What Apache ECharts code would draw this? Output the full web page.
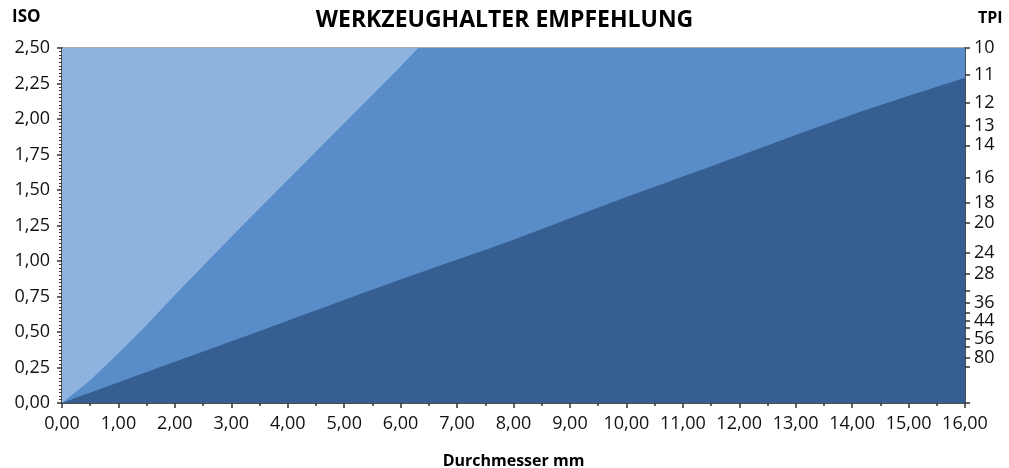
<!DOCTYPE html>
<html>
<head>
<meta charset="utf-8">
<script src="https://cdn.jsdelivr.net/npm/echarts@6/dist/echarts.min.js"></script>
<style>
  html, body { margin: 0; padding: 0; background: #fff; }
  #chart { width: 1009px; height: 468px; }
</style>
</head>
<body>
<div id="chart"></div>
<script>
// Zonen (x = Durchmesser mm, y = Steigung ISO)
const lightX = [0, 16];
const lightY = [2.5, 2.5];
const midX = [0, 0.5, 1, 1.5, 2, 3, 4, 5, 6, 6.31, 16];
const midY = [0, 0.16, 0.35, 0.55, 0.76, 1.17, 1.57, 1.97, 2.37, 2.5, 2.5];
const darkX = [0, 2, 4, 6, 8, 10, 12, 14, 16];
const darkY = [0, 0.29, 0.58, 0.87, 1.15, 1.45, 1.74, 2.03, 2.29];

// TPI-Skala rechts
const tpiLabels = [10, 11, 12, 13, 14, 16, 18, 20, 24, 28, 36, 44, 56, 80];
const tpiExtraTicks = [32, 40, 48, 64, 100];

const toPos = t => Math.min(2.5, 25.4 / t);
const pairs = (xs, ys) => xs.map((x, i) => [x, ys[i]]);
const fmt = v => v.toFixed(2).replace('.', ',');

const font = '"Open Sans", "Noto Sans", sans-serif';
const axisColor = '#333';

const chart = echarts.init(document.getElementById('chart'));

const option = {
  animation: false,
  backgroundColor: '#fff',
  textStyle: { fontFamily: font },
  title: {
    text: 'WERKZEUGHALTER EMPFEHLUNG',
    left: 'center',
    top: 4,
    textStyle: { fontSize: 23, fontWeight: 'bold', color: '#000', fontFamily: font }
  },
  grid: {
    left: 62, right: 44, top: 48, bottom: 65,
    outerBoundsMode: 'none',
    show: true, borderColor: '#555', borderWidth: 1, backgroundColor: 'transparent'
  },
  xAxis: {
    type: 'value',
    min: 0, max: 16, interval: 1,
    name: 'Durchmesser mm',
    nameLocation: 'middle',
    nameGap: 50,
    nameTextStyle: { fontSize: 16, fontWeight: 'bold', color: '#000' },
    axisLine: { lineStyle: { color: axisColor, width: 1.5 } },
    axisTick: { length: 5, lineStyle: { color: axisColor, width: 1.5 } },
    minorTick: { show: true, splitNumber: 2, length: 3, lineStyle: { color: axisColor, width: 1.5 } },
    splitLine: { show: false },
    axisLabel: { fontSize: 18, color: '#111', margin: 12, formatter: fmt }
  },
  yAxis: [
    {
      type: 'value',
      min: 0, max: 2.5, interval: 0.25,
      axisLine: { show: true, lineStyle: { color: axisColor, width: 1.5 } },
      axisTick: { show: true, length: 5, lineStyle: { color: axisColor, width: 1.5 } },
      minorTick: { show: true, splitNumber: 10, length: 3, lineStyle: { color: axisColor, width: 1 } },
      splitLine: { show: false },
      axisLabel: { fontSize: 18, color: '#111', margin: 12, formatter: fmt }
    },
    {
      type: 'value',
      position: 'right',
      min: 0, max: 2.5,
      axisLine: { show: true, lineStyle: { color: axisColor, width: 1.5 } },
      axisTick: {
        show: true, length: 5,
        customValues: tpiLabels.concat(tpiExtraTicks).map(toPos).concat([0]),
        lineStyle: { color: axisColor, width: 1.5 }
      },
      splitLine: { show: false },
      axisLabel: {
        fontSize: 18, color: '#111', margin: 9,
        customValues: tpiLabels.map(toPos),
        formatter: v => String(Math.round(25.4 / v))
      }
    }
  ],
  series: [
    {
      type: 'line', name: 'α° => 6°', data: pairs(lightX, lightY),
      symbol: 'none', lineStyle: { width: 0 },
      areaStyle: { color: '#8eb3df', opacity: 1 }
    },
    {
      type: 'line', name: 'α° = 4°', data: pairs(midX, midY),
      symbol: 'none', lineStyle: { width: 0 },
      areaStyle: { color: '#588dca', opacity: 1 }
    },
    {
      type: 'line', name: 'α° = 2°', data: pairs(darkX, darkY),
      symbol: 'none', smooth: 0.3, lineStyle: { width: 0 },
      areaStyle: { color: '#365e90', opacity: 1 }
    }
  ],
  graphic: [
    { type: 'text', left: 12, top: 9, style: { text: 'ISO', font: 'bold 17px ' + font, fill: '#000' } },
    { type: 'text', left: 978, top: 10, style: { text: 'TPI', font: 'bold 16px ' + font, fill: '#000' } },
    { type: 'text', left: 129, top: 82, style: { text: 'α° => 6°', font: 'bold 24px ' + font, fill: '#fff' } },
    { type: 'text', left: 474, top: 104, style: { text: 'α° = 4°', font: 'bold 24px ' + font, fill: '#fff' } },
    { type: 'text', left: 721, top: 256, style: { text: 'α° = 2°', font: 'bold 24px ' + font, fill: '#fff' } }
  ]
};

chart.setOption(option);
</script>
</body>
</html>
